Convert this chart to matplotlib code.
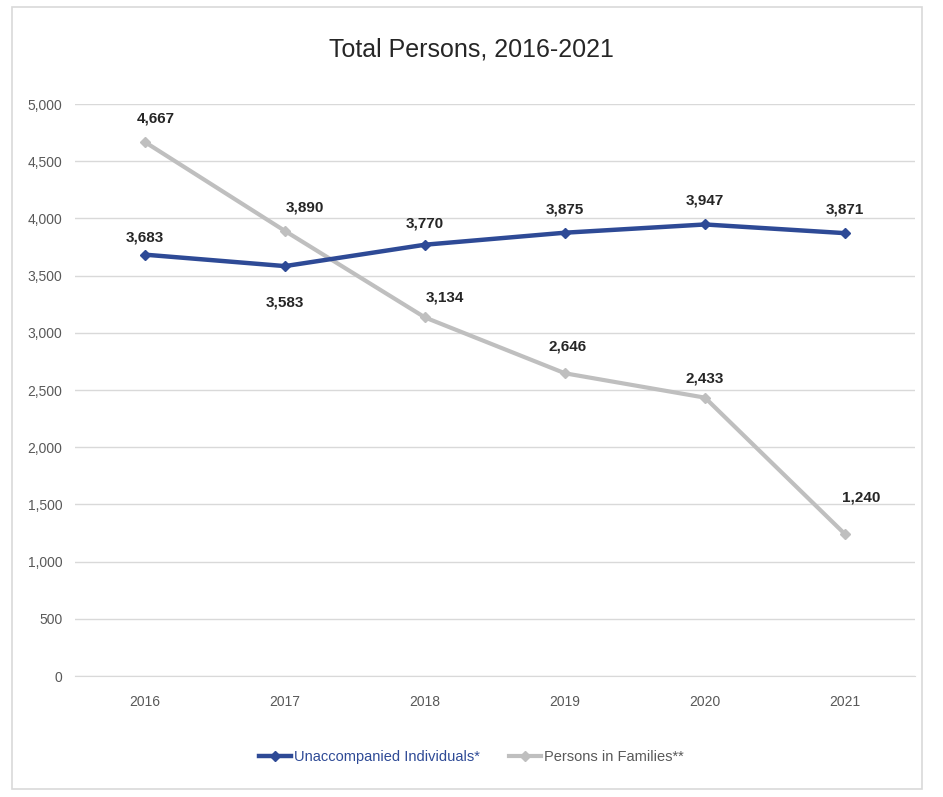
import matplotlib
matplotlib.use("Agg")
import matplotlib.pyplot as plt
from matplotlib.patches import Rectangle
from matplotlib.ticker import FuncFormatter

years = ["2016", "2017", "2018", "2019", "2020", "2021"]
unaccompanied = [3683, 3583, 3770, 3875, 3947, 3871]
families = [4667, 3890, 3134, 2646, 2433, 1240]
series_names = ["Unaccompanied Individuals*", "Persons in Families**"]
title = "Total Persons, 2016-2021"

plt.rcParams['font.family'] = ['Liberation Sans Narrow', 'Liberation Sans', 'DejaVu Sans']

fig = plt.figure(figsize=(9.43, 7.97), dpi=100)
fig.patches.append(Rectangle((12/943, 8/797), 910/943, 782/797, transform=fig.transFigure,
                             fill=False, edgecolor="#d9d9d9", linewidth=1.2))
ax = fig.add_axes([75/943, 1-676/797, 840/943, 572/797])

x = list(range(len(years)))
blue = "#2E4A96"
gray = "#BFBFBF"
l2, = ax.plot(x, families, color=gray, lw=3, marker="D", ms=5, zorder=3, label=series_names[1])
l1, = ax.plot(x, unaccompanied, color=blue, lw=3.2, marker="D", ms=5, zorder=4, label=series_names[0])

ax.set_xlim(-0.5, len(years) - 0.5)
ax.set_ylim(0, 5000)
ax.set_yticks(range(0, 5001, 500))
ax.yaxis.set_major_formatter(FuncFormatter(lambda v, p: f"{int(v):,}"))
ax.set_xticks(x)
ax.set_xticklabels(years)
ax.grid(axis="y", color="#d9d9d9", lw=1)
ax.set_axisbelow(True)
for s in ["top", "right", "left"]:
    ax.spines[s].set_visible(False)
ax.spines["bottom"].set_color("#d9d9d9")
ax.tick_params(length=0, labelsize=10, colors="#595959", pad=14)
ax.tick_params(axis="y", pad=9)

# data labels
blue_off = [(0, 7), (0, -31), (0, 10), (0, 12), (0, 12), (0, 12)]
gray_off = [(8, 12), (14, 12), (14, 9), (2, 14), (0, 9), (12, 21)]
for i, v in enumerate(unaccompanied):
    dx, dy = blue_off[i]
    ax.annotate(f"{v:,}", (i, v), xytext=(dx, dy), textcoords="offset points",
                ha="center", va="bottom", fontsize=11, color="#262626", fontweight="bold")
for i, v in enumerate(families):
    dx, dy = gray_off[i]
    ax.annotate(f"{v:,}", (i, v), xytext=(dx, dy), textcoords="offset points",
                ha="center", va="bottom", fontsize=11, color="#262626", fontweight="bold")

fig.text(0.5, 1-50/797, title, ha="center", va="center", fontsize=18, color="#262626")
fig.legend(handles=[l1, l2], loc="center", bbox_to_anchor=(0.5, 1-757/797), ncol=2,
           frameon=False, fontsize=10.5, handlelength=2.2, columnspacing=2.0,
           handletextpad=0.2, labelcolor=[blue, "#595959"])

fig.savefig("out.png", dpi=100)
